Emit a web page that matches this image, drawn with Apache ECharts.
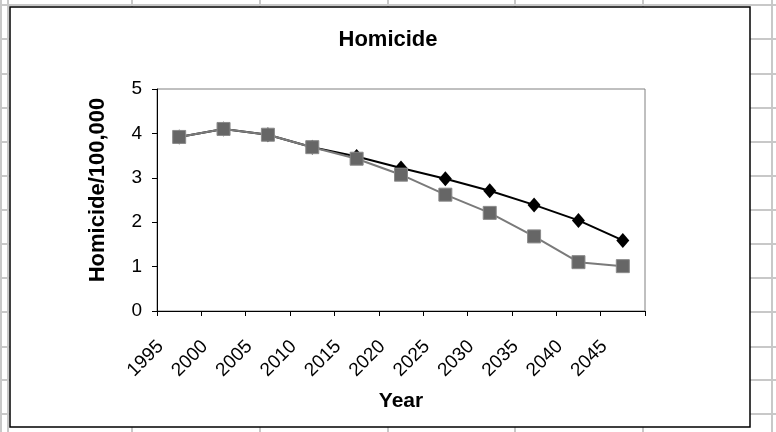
<!DOCTYPE html>
<html>
<head>
<meta charset="utf-8">
<script src="https://cdn.jsdelivr.net/npm/echarts@6/dist/echarts.min.js"></script>
<style>
  html, body { margin: 0; padding: 0; background: #fff; }
  #chart { width: 776px; height: 432px; }
</style>
</head>
<body>
<div id="chart"></div>
<script>
  // data
  var years = ['1995', '2000', '2005', '2010', '2015', '2020', '2025', '2030', '2035', '2040', '2045'];
  var seriesBlack = [3.92, 4.10, 3.97, 3.69, 3.48, 3.22, 2.98, 2.71, 2.39, 2.04, 1.59];
  var seriesGray = [3.92, 4.10, 3.97, 3.69, 3.43, 3.07, 2.62, 2.21, 1.68, 1.10, 1.01];
  var yTicks = [0, 1, 2, 3, 4, 5];

  // spreadsheet cells behind the chart
  var rowLines = [5, 39, 74, 108, 142, 176, 210, 244, 278, 312, 347, 380, 414];
  var colLines = [1, 8, 132, 260, 388, 515, 643, 772];

  var dom = document.getElementById('chart');
  var myChart = echarts.init(dom, null, { renderer: 'canvas' });

  var bg = [];
  rowLines.forEach(function (y) {
    bg.push({ type: 'line', shape: { x1: 0, y1: y, x2: 776, y2: y }, style: { stroke: '#c8c8c8', lineWidth: 2 }, z: -10 });
  });
  colLines.forEach(function (x) {
    bg.push({ type: 'line', shape: { x1: x, y1: 0, x2: x, y2: 432 }, style: { stroke: '#c8c8c8', lineWidth: 2 }, z: -10 });
  });
  // chart frame
  bg.push({ type: 'rect', shape: { x: 10, y: 7, width: 740, height: 420 }, style: { fill: '#fff', stroke: '#000', lineWidth: 1.5 }, z: -9 });

  var font = 'Liberation Sans, Arial, sans-serif';

  var option = {
    animation: false,
    backgroundColor: '#fff',
    graphic: bg,
    title: {
      text: 'Homicide',
      left: 'center',
      top: 24,
      textStyle: { fontFamily: font, fontSize: 22, fontWeight: 'bold', color: '#000' }
    },
    grid: {
      left: 157, right: 131, top: 89, bottom: 121,
      show: true, borderColor: '#808080', borderWidth: 1, backgroundColor: 'transparent'
    },
    xAxis: {
      type: 'category',
      data: years,
      boundaryGap: true,
      name: 'Year',
      nameLocation: 'middle',
      nameGap: 80,
      nameTextStyle: { fontFamily: font, fontSize: 21, fontWeight: 'bold', color: '#000' },
      axisLine: { lineStyle: { color: '#000', width: 1 } },
      axisTick: { show: true, inside: false, length: 5, lineStyle: { color: '#000' } },
      axisLabel: {
        rotate: 45,
        margin: 14,
        interval: 0,
        fontFamily: font,
        fontSize: 19,
        color: '#000',
        formatter: function (v) { return v + '     '; }
      },
      splitLine: { show: false }
    },
    yAxis: {
      type: 'value',
      min: yTicks[0],
      max: yTicks[yTicks.length - 1],
      interval: 1,
      name: 'Homicide/100,000',
      nameLocation: 'middle',
      nameGap: 48,
      nameTextStyle: { fontFamily: font, fontSize: 22, fontWeight: 'bold', color: '#000', padding: [0, 0, 0, 20] },
      axisLine: { show: true, lineStyle: { color: '#000', width: 1 } },
      axisTick: { show: true, inside: false, length: 5, lineStyle: { color: '#000' } },
      axisLabel: { margin: 15, fontFamily: font, fontSize: 19, color: '#000' },
      splitLine: { show: false }
    },
    series: [
      {
        name: 'black',
        type: 'line',
        data: seriesBlack,
        symbol: 'diamond',
        symbolSize: [13, 15],
        itemStyle: { color: '#000' },
        lineStyle: { color: '#000', width: 2 },
        z: 2
      },
      {
        name: 'gray',
        type: 'line',
        data: seriesGray,
        symbol: 'rect',
        symbolSize: 13,
        itemStyle: { color: '#666', borderColor: '#8a8a8a', borderWidth: 1 },
        lineStyle: { color: '#7a7a7a', width: 2 },
        z: 3
      }
    ]
  };

  if (option && typeof option === 'object') {
    myChart.setOption(option);
  }
</script>
</body>
</html>
